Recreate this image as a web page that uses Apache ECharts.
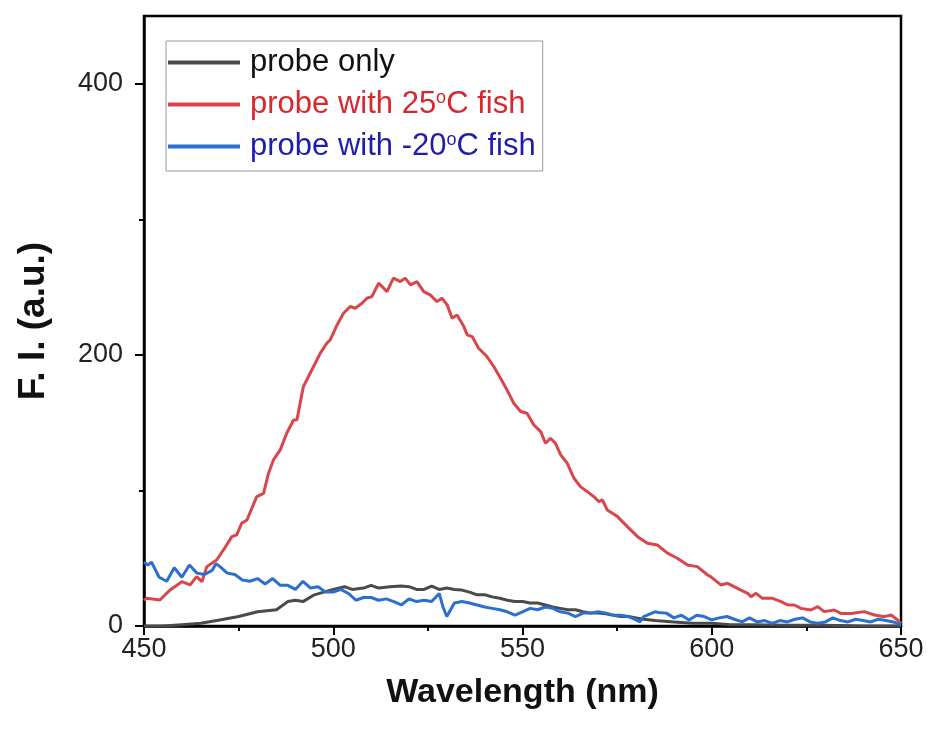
<!DOCTYPE html>
<html>
<head>
<meta charset="utf-8">
<script src="https://cdn.jsdelivr.net/npm/echarts@6/dist/echarts.min.js"></script>
<style>
  html, body { margin: 0; padding: 0; background: #fff; }
  #main { width: 930px; height: 731px; }
</style>
</head>
<body>
<div id="main"></div>
<script>
// series names
var names = ['probe only', 'probe with 25°C fish', 'probe with -20°C fish'];

// probe only (black)
var blackWl = [450, 455, 460, 465, 470, 475, 480, 485, 488, 490, 492, 495, 500, 503, 505, 508, 510, 512, 515, 518,
  520, 522, 524, 526, 528, 530, 532, 534, 536, 538, 540, 542, 544, 546, 548, 550, 552, 554, 556, 558,
  560, 562, 564, 566, 568, 570, 572, 574, 576, 578, 580, 582, 585, 590, 595, 600, 605, 610, 620, 630, 640, 650];
var blackFi = [0, 0, 1, 2, 4.5, 7, 10.5, 12, 18, 19, 18, 23, 27, 29, 27, 28, 30, 28, 29, 29.5,
  29, 27, 27, 29.5, 27, 28, 27, 26.5, 25, 23, 23, 21.5, 20.5, 19, 18, 18, 17, 17, 15.5, 14,
  13, 12, 12, 10.5, 9.5, 9.5, 9, 8, 7, 7, 6, 5, 4, 3, 2, 2, 1, 1, 0.5, 0.5, 0, 0];

// probe with 25°C fish (red)
var redWl = [450, 450.7, 454.2, 456.9, 460.0, 462.2, 463.9, 465.3, 466.6, 469.2, 471.0, 473.2, 474.5, 475.8, 477.2,
  478.5, 479.8, 481.6, 482.9, 484.2, 486.0, 487.7, 489.5, 490.4, 492.1, 493.0, 494.8, 496.6, 498.3,
  499.2, 500.8, 502.7, 504.5, 505.8, 507.6, 508.9, 510.2, 512.0, 514.2, 515.9, 517.7, 519.0, 520.4,
  522.1, 523.9, 525.6, 527.4, 528.7, 530.1, 531.4, 532.7, 534.5, 535.4, 536.7, 538.4, 540.6, 542.4,
  544.2, 545.9, 547.7, 549.5, 551.2, 553.0, 554.8, 556.1, 557.4, 558.7, 560.1, 561.8, 563.6, 565.3,
  567.1, 568.9, 570.2, 571.1, 572.4, 575.1, 577.7, 580.4, 583.0, 585.6, 588.3, 590.9, 593.6, 596.2,
  598.9, 599.7, 602.4, 604.2, 606.8, 609.5, 610.4, 611.7, 613.4, 616.1, 618.3, 620.1, 621.8, 623.6,
  626.2, 628.0, 629.7, 632.4, 634.1, 636.8, 640.3, 643.0, 645.6, 647.4, 649.1, 650];
var redFi = [19, 20.4, 19.2, 26.6, 32.7, 30.3, 36.4, 32.7, 43.8, 48.7, 56.1, 65.9, 67.2, 75.8, 78.2,
  86.9, 95.4, 97.9, 112.7, 122.5, 129.9, 142.2, 152, 152, 176.6, 181.5, 191.4, 201.3, 208.6,
  211.1, 220.9, 230.7, 235.7, 234.4, 238.1, 241.8, 243, 252.9, 246.7, 256.6, 254.1, 256.6, 251.7,
  254.1, 246.7, 244.3, 239.3, 241.8, 236.9, 227.1, 229.5, 220.9, 214.8, 213.5, 204.9, 198.8, 191.4,
  182.8, 174.2, 164.3, 158.2, 157, 148.3, 143.4, 134.8, 138.5, 134.8, 126.2, 120.1, 109, 102.8,
  99.1, 95.4, 91.7, 93, 85.6, 80.7, 73.3, 65.9, 61, 59.8, 53.7, 50, 45, 43.8,
  37.6, 36.4, 30.3, 31.5, 27.8, 24.1, 21.6, 24.1, 20.4, 20.4, 18, 15.5, 15.5, 13,
  11.8, 14.3, 10.6, 11.8, 9.3, 9.3, 10.6, 8.1, 6.9, 8.1, 4.4, 2];

// probe with -20°C fish (blue)
var blueWl = [450, 451, 452, 454, 456, 458, 460, 462, 464, 466, 468, 469, 470, 472, 474, 476, 478, 480, 482, 484,
  486, 488, 490, 492, 494, 496, 498, 500, 502, 504, 506, 508, 510, 512, 514, 516, 518, 520, 522, 524,
  526, 528, 529, 530, 532, 534, 536, 538, 540, 542, 544, 546, 548, 550, 552, 554, 556, 558, 560, 562,
  564, 566, 568, 570, 572, 574, 576, 578, 580, 581, 582, 585, 586, 588, 590, 592, 594, 596, 598, 600,
  602, 604, 606, 608, 610, 612, 614, 616, 618, 620, 622, 624, 626, 628, 630, 632, 634, 636, 638, 640,
  642, 644, 646, 648, 650];
var blueFi = [47, 45, 47, 36, 33, 43, 36, 45, 39, 38, 41, 46, 44, 39, 38, 34, 33, 35, 31, 35,
  30, 30, 27, 33, 28, 29, 25, 25, 27, 24, 19, 21, 21, 19, 20, 18, 15.5, 20, 18, 19,
  18, 24, 14, 7, 17, 18, 17, 15.5, 14, 13, 12, 10.5, 8, 10.5, 13, 12, 14, 13, 10.5, 9.5,
  7, 9.5, 9.5, 10.5, 9.5, 8, 8, 7, 4.5, 3, 7, 10.5, 10, 9.5, 6, 8, 4.5, 8, 7, 4.5,
  6, 7, 5, 3, 6, 3, 4, 2, 4, 3, 5, 6, 3, 2, 3, 6, 4, 3, 5, 4,
  3, 5, 4, 3, 1];

var yMajorTicks = [0, 200, 400];
var yMinorTicks = [100, 300];

var lineColors = ['#4a4a4a', '#d9454a', '#2b6fd0'];
var textColors = ['#111111', '#d8282e', '#1e1ea8'];

function pairs(xs, ys) {
  return xs.map(function (x, i) { return [x, ys[i]]; });
}

var font = 'Liberation Sans, Arial, Helvetica, sans-serif';
var chart = echarts.init(document.getElementById('main'));

var option = {
  backgroundColor: '#ffffff',
  animation: false,
  grid: {
    left: 144, right: 29, top: 16, bottom: 105,
    show: true, borderColor: '#000', borderWidth: 2.5, backgroundColor: 'transparent'
  },
  legend: {
    orient: 'vertical',
    left: 166, top: 41,
    itemWidth: 72, itemHeight: 4,
    itemGap: 11,
    icon: 'rect',
    padding: [6, 7, 9, 2],
    borderColor: '#9a9a9a', borderWidth: 1,
    formatter: function (name) { return name.replace('°', '{s|o}'); },
    textStyle: {
      fontFamily: font, fontSize: 31, lineHeight: 31, padding: [0, 0, 0, 5],
      rich: { s: { fontFamily: font, fontSize: 18, lineHeight: 18, verticalAlign: 'top' } }
    },
    data: names.map(function (n, i) {
      return { name: n, textStyle: { color: textColors[i] } };
    })
  },
  xAxis: {
    type: 'value', min: 450, max: 650, interval: 50,
    name: 'Wavelength (nm)', nameLocation: 'middle', nameGap: 50,
    nameTextStyle: { fontFamily: font, fontSize: 34, fontWeight: 'bold', color: '#111' },
    axisLine: { show: true, onZero: false, lineStyle: { color: '#000', width: 2.5 } },
    axisTick: { show: true, length: 9, lineStyle: { color: '#000', width: 2 } },
    minorTick: { show: true, splitNumber: 2, length: 5, lineStyle: { color: '#000', width: 2 } },
    axisLabel: { fontFamily: font, fontSize: 27, color: '#222', margin: 10 },
    splitLine: { show: false }
  },
  yAxis: [{
    type: 'value', min: 0, max: 450,
    name: 'F. I. (a.u.)', nameLocation: 'middle', nameGap: 92,
    nameTextStyle: { fontFamily: font, fontSize: 37, fontWeight: 'bold', color: '#111' },
    axisLine: { show: true, lineStyle: { color: '#000', width: 2.5 } },
    axisTick: { show: true, length: 9, customValues: yMajorTicks, lineStyle: { color: '#000', width: 2 } },
    axisLabel: { fontFamily: font, fontSize: 27, color: '#222', margin: 21, customValues: yMajorTicks },
    splitLine: { show: false }
  }, {
    type: 'value', min: 0, max: 450, position: 'left',
    axisLine: { show: false },
    axisTick: { show: true, length: 5, customValues: yMinorTicks, lineStyle: { color: '#000', width: 2 } },
    axisLabel: { show: false },
    splitLine: { show: false }
  }],
  series: [
    { name: names[0], data: pairs(blackWl, blackFi) },
    { name: names[1], data: pairs(redWl, redFi) },
    { name: names[2], data: pairs(blueWl, blueFi) }
  ].map(function (s, i) {
    return {
      name: s.name, type: 'line', data: s.data, yAxisIndex: 0,
      symbol: 'none', showSymbol: false,
      color: lineColors[i],
      lineStyle: { color: lineColors[i], width: 3 },
      z: 2 + i
    };
  })
};

chart.setOption(option);
</script>
</body>
</html>
